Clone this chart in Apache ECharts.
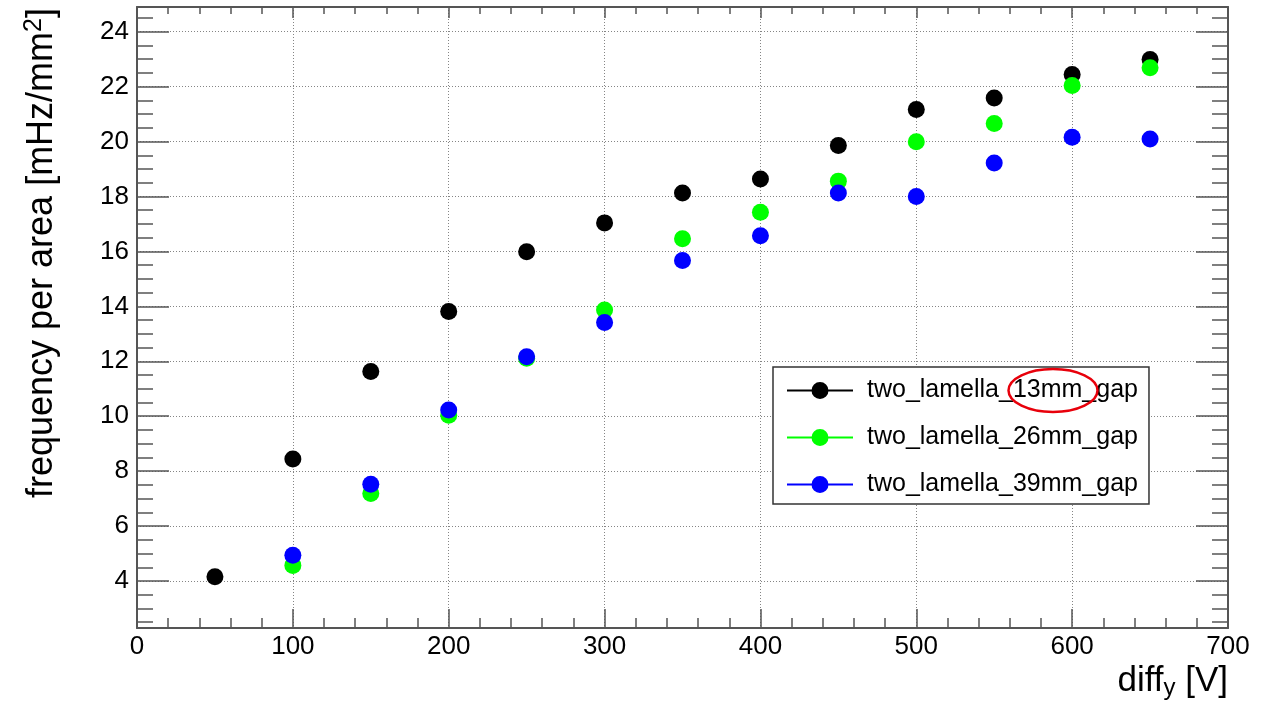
<!DOCTYPE html>
<html>
<head>
<meta charset="utf-8">
<script src="https://cdn.jsdelivr.net/npm/echarts@6/dist/echarts.min.js"></script>
<style>html,body{margin:0;padding:0;background:#fff;}#chart{width:1279px;height:702px;}</style>
</head>
<body>
<div id="chart"></div>
<script>
// ---- data ----
const seriesNames = ['two_lamella_13mm_gap', 'two_lamella_26mm_gap', 'two_lamella_39mm_gap'];
const voltages13 = [50, 100, 150, 200, 250, 300, 350, 400, 450, 500, 550, 600, 650];
const voltages26 = [100, 150, 200, 250, 300, 350, 400, 450, 500, 550, 600, 650];
const voltages39 = [100, 150, 200, 250, 300, 350, 400, 450, 500, 550, 600, 650];
const freq13 = [4.16, 8.44, 11.63, 13.81, 15.99, 17.04, 18.13, 18.64, 19.86, 21.17, 21.59, 22.44, 22.99];
const freq26 = [4.57, 7.19, 10.04, 12.11, 13.87, 16.46, 17.43, 18.56, 19.99, 20.66, 22.04, 22.69];
const freq39 = [4.94, 7.52, 10.23, 12.17, 13.41, 15.67, 16.57, 18.13, 18.00, 19.22, 20.16, 20.09];
const xRange = [0, 700];
const yRange = [2.29, 24.9];

const FONT = 'Liberation Sans';
const frameColor = '#555';
const colors = ['#000000', '#00ff00', '#0000ff'];
const legendIcon = 'path://M0,9 L66,9 L66,11 L0,11 Z M41.5,10 A8.5,8.5 0 1 1 24.5,10 A8.5,8.5 0 1 1 41.5,10 Z';

function pairs(xs, ys) { return xs.map((x, i) => [x, ys[i]]); }

const chart = echarts.init(document.getElementById('chart'), null, {renderer: 'canvas'});

const tickLine = {color: frameColor, width: 1.5};
const gridLine = {color: '#858585', width: 1, type: [1, 2]};

const option = {
  animation: false,
  backgroundColor: '#ffffff',
  grid: {left: 137, right: 51, top: 7, bottom: 74, containLabel: false, outerBoundsMode: 'none', show: false},
  xAxis: [
    {
      type: 'value', position: 'bottom', min: xRange[0], max: xRange[1], interval: 100,
      axisLine: {show: true, onZero: false, lineStyle: {color: frameColor, width: 2}},
      axisTick: {show: true, inside: true, length: 19, lineStyle: tickLine},
      minorTick: {show: true, splitNumber: 5, length: 10, lineStyle: tickLine},
      splitLine: {show: true, lineStyle: gridLine},
      axisLabel: {show: true, fontFamily: FONT, fontSize: 26, color: '#000', margin: 6}
    },
    {
      type: 'value', position: 'top', min: xRange[0], max: xRange[1], interval: 100,
      axisLine: {show: true, onZero: false, lineStyle: {color: frameColor, width: 2}},
      axisTick: {show: true, inside: true, length: 11, lineStyle: tickLine},
      minorTick: {show: true, splitNumber: 5, length: 7, lineStyle: tickLine},
      splitLine: {show: false},
      axisLabel: {show: false}
    }
  ],
  yAxis: [
    {
      type: 'value', position: 'left', min: yRange[0], max: yRange[1], splitNumber: 11,
      axisLine: {show: true, onZero: false, lineStyle: {color: frameColor, width: 2}},
      axisTick: {show: true, inside: true, length: 32, lineStyle: tickLine},
      minorTick: {show: true, splitNumber: 4, length: 16, lineStyle: tickLine},
      splitLine: {show: true, lineStyle: gridLine},
      axisLabel: {show: true, fontFamily: FONT, fontSize: 26, color: '#000', margin: 8,
                  showMinLabel: false, showMaxLabel: false}
    },
    {
      type: 'value', position: 'right', min: yRange[0], max: yRange[1], splitNumber: 11,
      axisLine: {show: true, onZero: false, lineStyle: {color: frameColor, width: 2}},
      axisTick: {show: true, inside: true, length: 32, lineStyle: tickLine},
      minorTick: {show: true, splitNumber: 4, length: 16, lineStyle: tickLine},
      splitLine: {show: false},
      axisLabel: {show: false}
    }
  ],
  legend: {
    show: true, orient: 'vertical', left: 773, top: 367,
    padding: [10.5, 11, 6.5, 14], itemGap: 21, itemWidth: 66, itemHeight: 17,
    backgroundColor: '#ffffff', borderColor: '#333', borderWidth: 1.5, borderRadius: 0,
    selectedMode: false,
    textStyle: {fontFamily: FONT, fontSize: 25, color: '#000', lineHeight: 26, padding: [0, 0, 0, 9]},
    data: seriesNames.map(n => ({name: n, icon: legendIcon}))
  },
  series: [
    {type: 'scatter', name: seriesNames[0], xAxisIndex: 0, yAxisIndex: 0, data: pairs(voltages13, freq13),
     symbol: 'circle', symbolSize: 17, itemStyle: {color: colors[0], opacity: 1}, silent: true, z: 3},
    {type: 'scatter', name: seriesNames[1], xAxisIndex: 0, yAxisIndex: 0, data: pairs(voltages26, freq26),
     symbol: 'circle', symbolSize: 17, itemStyle: {color: colors[1], opacity: 1}, silent: true, z: 4},
    {type: 'scatter', name: seriesNames[2], xAxisIndex: 0, yAxisIndex: 0, data: pairs(voltages39, freq39),
     symbol: 'circle', symbolSize: 17, itemStyle: {color: colors[2], opacity: 1}, silent: true, z: 5}
  ],
  graphic: [
    {
      type: 'text', x: 42, y: 8, rotation: Math.PI / 2, silent: true,
      style: {
        text: '{a|frequency per area [mHz/mm}{s|2}{a|]}',
        align: 'right', verticalAlign: 'middle', fill: '#000',
        rich: {
          a: {fontFamily: FONT, fontSize: 36, lineHeight: 40, fill: '#000'},
          s: {fontFamily: FONT, fontSize: 25, lineHeight: 25, verticalAlign: 'top', fill: '#000'}
        }
      }
    },
    {
      type: 'text', x: 1228, y: 681, silent: true,
      style: {
        text: '{a|diff}{b|y}{a| [V]}',
        align: 'right', verticalAlign: 'middle', fill: '#000',
        rich: {
          a: {fontFamily: FONT, fontSize: 35, lineHeight: 38, fill: '#000'},
          b: {fontFamily: FONT, fontSize: 24, lineHeight: 24, verticalAlign: 'bottom', fill: '#000'}
        }
      }
    },
    {
      type: 'ellipse', silent: true, z: 100,
      shape: {cx: 1053, cy: 390.5, rx: 44.5, ry: 21.5},
      style: {fill: 'none', stroke: '#e8000b', lineWidth: 2.5}
    }
  ]
};
chart.setOption(option);
</script>
</body>
</html>
